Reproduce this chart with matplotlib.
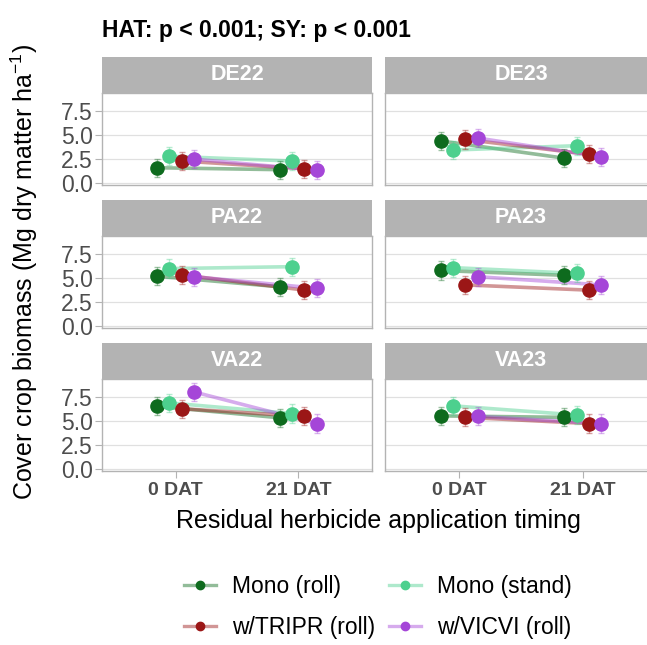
import matplotlib
matplotlib.use("Agg")
import matplotlib.pyplot as plt
from matplotlib.lines import Line2D
import numpy as np

plt.rcParams['font.family'] = ['Liberation Sans', 'DejaVu Sans']
plt.rcParams['mathtext.fontset'] = 'custom'
plt.rcParams['mathtext.rm'] = 'Liberation Sans'
plt.rcParams['mathtext.it'] = 'Liberation Sans:italic'
plt.rcParams['mathtext.bf'] = 'Liberation Sans:bold'

# ---------------- data ----------------
sites = ["DE22", "DE23", "PA22", "PA23", "VA22", "VA23"]
timings = ["0 DAT", "21 DAT"]
groups = ["Mono (roll)", "Mono (stand)", "w/TRIPR (roll)", "w/VICVI (roll)"]
colors = ["#0E6B1E", "#4DD08E", "#9B1616", "#A546D8"]

# mean biomass per site: rows = group, cols = timing (0 DAT, 21 DAT)
DE22 = [[1.6, 1.4], [2.8, 2.3], [2.3, 1.5], [2.5, 1.35]]
DE23 = [[4.4, 2.6], [3.45, 3.9], [4.55, 3.0], [4.7, 2.75]]
PA22 = [[5.2, 4.1], [6.0, 6.2], [5.35, 3.75], [5.15, 3.95]]
PA23 = [[5.8, 5.3], [6.1, 5.5], [4.3, 3.75], [5.15, 4.3]]
VA22 = [[6.55, 5.35], [6.9, 5.8], [6.3, 5.5], [8.05, 4.75]]
VA23 = [[5.55, 5.4], [6.6, 5.65], [5.4, 4.75], [5.5, 4.75]]
means = {"DE22": DE22, "DE23": DE23, "PA22": PA22,
         "PA23": PA23, "VA22": VA22, "VA23": VA23}
# standard error half-widths (same for all groups within a site)
se = {"DE22": 0.95, "DE23": 0.95, "PA22": 0.95,
      "PA23": 0.95, "VA22": 0.95, "VA23": 0.95}

title = "HAT: p < 0.001; SY: p < 0.001"
xlabel = "Residual herbicide application timing"
ylabel = "Cover crop biomass (Mg dry matter ha$^{-1}$)"
yticks = [0.0, 2.5, 5.0, 7.5]

# ---------------- layout ----------------
W, H = 647, 645
fig = plt.figure(figsize=(W / 100, H / 100), dpi=100)

col_x = [102, 385]
col_w = [270, 272]
panel_h = 92
strip_h = 36
row_top = [93, 236, 379]

def fr(x, y, w, h):
    return [x / W, 1 - (y + h) / H, w / W, h / H]

dodge = [-0.15, -0.05, 0.05, 0.15]
border = "#B3B3B3"
grid_c = "#E0E0E0"
tick_lab_c = "#4D4D4D"

for i, site in enumerate(sites):
    r, c = divmod(i, 2)
    ax = fig.add_axes(fr(col_x[c], row_top[r], col_w[c], panel_h))
    sax = fig.add_axes(fr(col_x[c], row_top[r] - strip_h, col_w[c], strip_h))
    sax.set_facecolor(border)
    sax.set_xticks([]); sax.set_yticks([])
    for sp in sax.spines.values():
        sp.set_visible(False)
    sax.text(0.5, 0.5, site, transform=sax.transAxes, ha="center", va="center",
             color="white", fontsize=15.5, fontweight="bold")

    xs = np.arange(1, len(timings) + 1)
    for g, grp in enumerate(groups):
        vals = np.array(means[site][g])
        xpos = xs + dodge[g]
        ax.plot(xpos, vals, color=colors[g], lw=2.6, alpha=0.45,
                solid_capstyle="butt", zorder=2)
        ax.errorbar(xpos, vals, yerr=se[site], fmt="none", ecolor=colors[g],
                    elinewidth=1.0, capsize=2.5, capthick=1.0, alpha=0.4, zorder=3)
        ax.plot(xpos, vals, "o", color=colors[g], ms=9.5, zorder=4)

    ax.set_xlim(0.4, 2.6)
    ax.set_ylim(-0.2, 9.4)
    ax.set_yticks(yticks)
    ax.set_xticks(xs)
    ax.grid(axis="y", color=grid_c, lw=0.9, zorder=0)
    ax.set_axisbelow(True)
    for sp in ax.spines.values():
        sp.set_color(border)
        sp.set_linewidth(1.0)
    ax.tick_params(axis="both", color=border, length=5, width=0.8,
                   labelcolor=tick_lab_c)
    if c == 0:
        ax.set_yticklabels([f"{t:.1f}" for t in yticks], fontsize=16.5)
        ax.tick_params(axis="y", pad=1.5)
    else:
        ax.tick_params(axis="y", left=False, labelleft=False)
    if r == 2:
        ax.set_xticklabels(timings, fontsize=14, fontweight="bold")
        ax.tick_params(axis="x", pad=3)
    else:
        ax.tick_params(axis="x", bottom=False, labelbottom=False)

fig.text(102 / W, 1 - 30 / H, title, ha="left", va="center",
         fontsize=16.5, fontweight="bold")
fig.text(378 / W, 1 - 521 / H, xlabel, ha="center", va="center", fontsize=18)
fig.text(24 / W, 1 - 272 / H, ylabel, ha="center", va="center",
         rotation=90, fontsize=18)

handles = []
for g in [0, 2, 1, 3]:
    rgba = matplotlib.colors.to_rgba(colors[g], 0.45)
    handles.append(Line2D([0], [0], color=rgba, lw=2.4, marker="o", ms=6,
                          markerfacecolor=colors[g], markeredgecolor=colors[g],
                          label=groups[g]))
fig.legend(handles=handles, loc="center", bbox_to_anchor=(378 / W, 1 - 607 / H),
           ncol=2, frameon=False, fontsize=16.5, handlelength=1.4,
           handletextpad=0.7, columnspacing=0.6, labelspacing=0.8)

fig.savefig("out.png", dpi=100, facecolor="white")
